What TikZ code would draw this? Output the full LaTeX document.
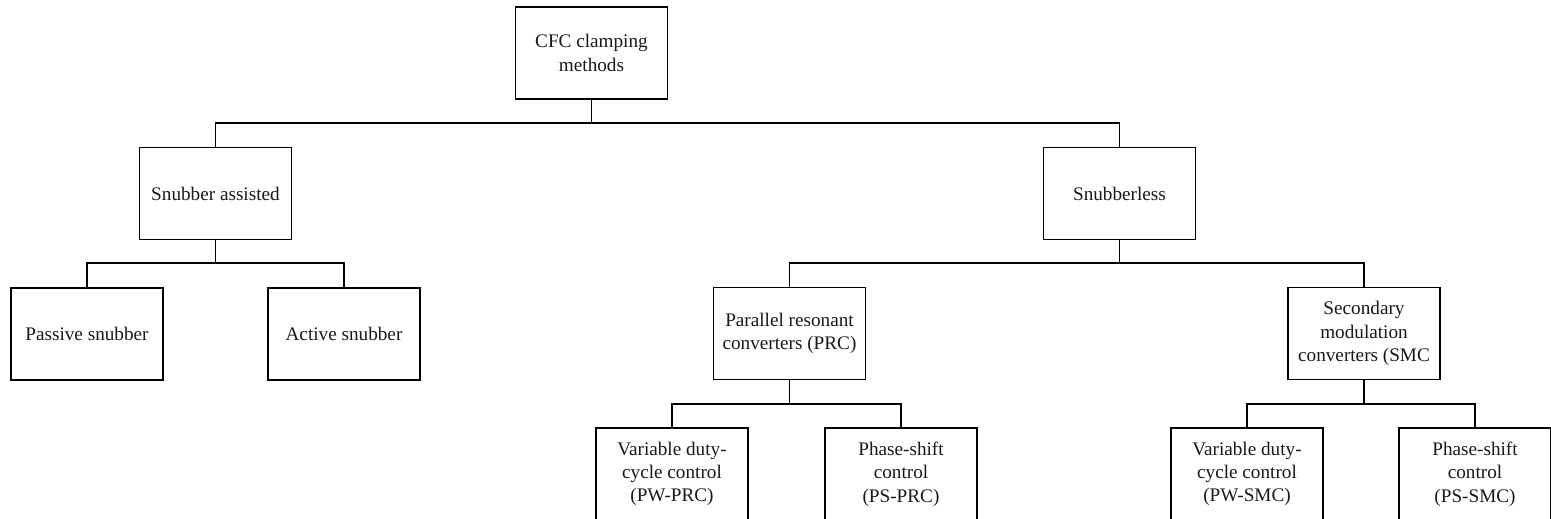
\documentclass[tikz,border=0pt]{standalone}
\usepackage{fontspec}
\setmainfont{Liberation Serif}
\begin{document}
\begin{tikzpicture}[x=1pt,y=-1pt,
  box/.style={draw=black,line width=1.4pt,minimum width=152pt,minimum height=92pt,
    inner sep=2pt,align=center,font=\fontsize{19.2}{23.3}\selectfont,text=black!90},
  link/.style={draw=black,line width=1.4pt}]
\useasboundingbox (0,0) rectangle (1551,519);
\clip (0,0) rectangle (1551,519);
\fill[white] (0,0) rectangle (1551,519);
\node[box] (root) at (591.5,53) {CFC clamping\\methods};
\node[box] (sa) at (215.5,193.5) {Snubber assisted};
\node[box] (sl) at (1119.5,193.5) {Snubberless};
\node[box] (ps) at (87,334) {Passive snubber};
\node[box] (as) at (344,334) {Active snubber};
\node[box] (prc) at (789.5,333.5) {Parallel resonant\\converters (PRC)};
\node[box] (smc) at (1364,333.5) {Secondary\\modulation\\converters (SMC};
\node[box] (pwprc) at (672,474) {Variable duty-\\cycle control\\(PW-PRC)};
\node[box] (psprc) at (901,474) {Phase-shift\\control\\(PS-PRC)};
\node[box] (pwsmc) at (1247,474) {Variable duty-\\cycle control\\(PW-SMC)};
\node[box] (pssmc) at (1475,474) {Phase-shift\\control\\(PS-SMC)};
\coordinate (b1) at (0,123);
\coordinate (b2) at (0,263);
\coordinate (b3) at (0,404);
\draw[link] (root.south) -- (root.south |- b1) -| (sa.north);
\draw[link] (root.south |- b1) -| (sl.north);
\draw[link] (sa.south) -- (sa.south |- b2) -| (ps.north);
\draw[link] (sa.south |- b2) -| (as.north);
\draw[link] (sl.south) -- (sl.south |- b2) -| (prc.north);
\draw[link] (sl.south |- b2) -| (smc.north);
\draw[link] (prc.south) -- (prc.south |- b3) -| (pwprc.north);
\draw[link] (prc.south |- b3) -| (psprc.north);
\draw[link] (smc.south) -- (smc.south |- b3) -| (pwsmc.north);
\draw[link] (smc.south |- b3) -| (pssmc.north);
\end{tikzpicture}
\end{document}
